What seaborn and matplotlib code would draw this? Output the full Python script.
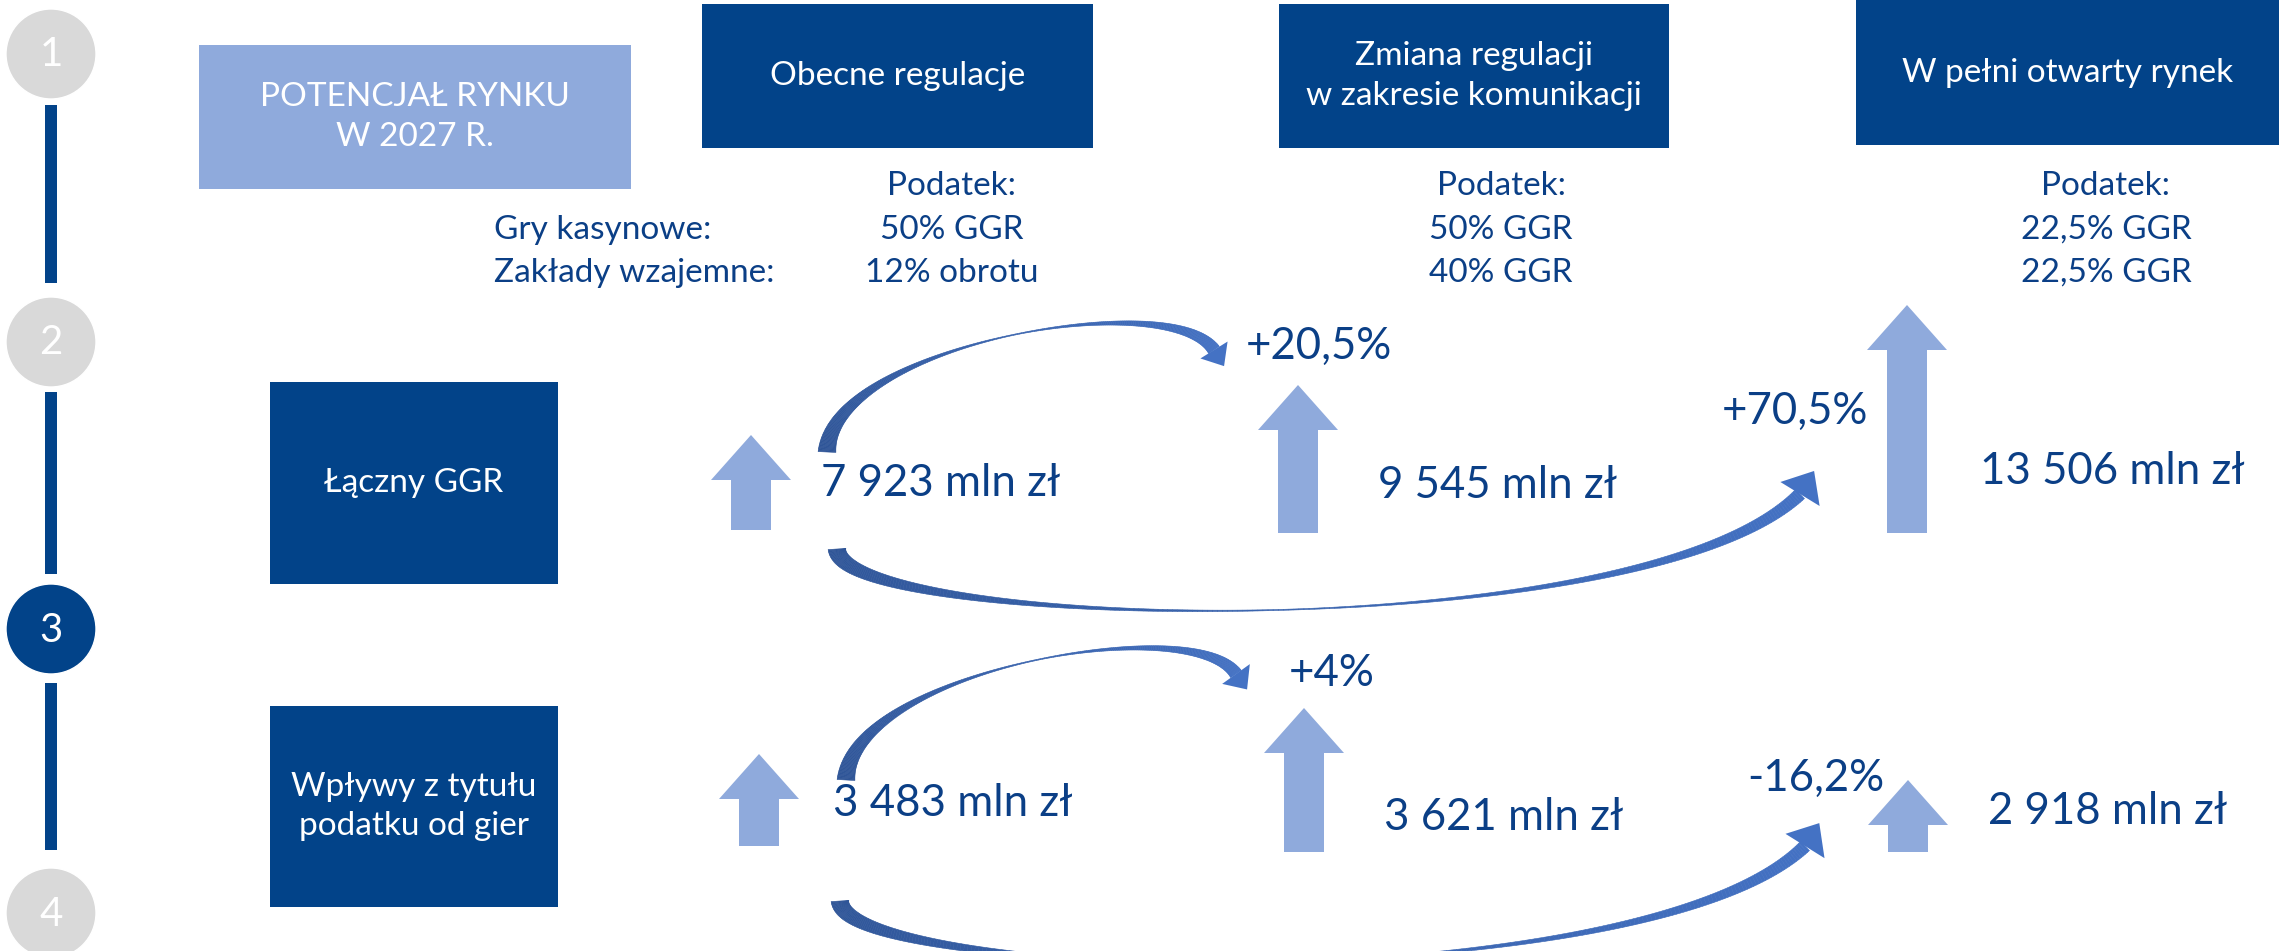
import numpy as np
import pandas as pd
import matplotlib
matplotlib.use("Agg")
import matplotlib.pyplot as plt
import seaborn as sns
from matplotlib.patches import Rectangle, Polygon
from matplotlib.collections import PolyCollection
from matplotlib.colors import to_rgb

# ---- data ----
header_title = "POTENCJAŁ RYNKU\nW 2027 R."
scenarios = ["Obecne regulacje", "Zmiana regulacji\nw zakresie komunikacji", "W pełni otwarty rynek"]
tax_header = "Podatek:"
tax_labels = ["Gry kasynowe:", "Zakłady wzajemne:"]
tax_casino = ["50% GGR", "50% GGR", "22,5% GGR"]
tax_betting = ["12% obrotu", "40% GGR", "22,5% GGR"]
metrics = ["Łączny GGR", "Wpływy z tytułu\npodatku od gier"]
ggr_values = [7923, 9545, 13506]
tax_values = [3483, 3621, 2918]
ggr_changes = ["+20,5%", "+70,5%"]
tax_changes = ["+4%", "-16,2%"]
steps = [1, 2, 3, 4]
active_step = 3

# ---- style ----
W, H = 2279, 951
NAVY = "#024389"
LIGHT = "#8FAADC"
GREY = "#D9D9D9"
TEXT = "#0B3F86"
CURVE_START = "#2F5597"
CURVE_END = "#4472C4"

# ---- layout (pixel space) ----
step_x = 51
step_y = [54, 342, 629, 913]
step_r = 45
step_lines = [(105, 283), (392, 574), (683, 850)]

header_box = (199, 45, 432, 144)
scenario_boxes = [(702, 4, 391, 144), (1279, 4, 390, 144), (1856, 0, 423, 145)]
metric_boxes = [(270, 382, 288, 202), (270, 706, 288, 201)]
tax_col_x = [952, 1501, 2106]
tax_row_y = [186, 230, 273]
tax_label_x = 494

arrow_x = [[751, 1298, 1907], [759, 1304, 1908]]
arrow_tip = [[435, 385, 305], [754, 708, 780]]
arrow_base = [[530, 533, 533], [846, 852, 852]]
value_pos = [[(821, 484), (1378, 485), (1980, 472)], [(833, 804), (1384, 818), (1988, 811)]]
change_pos = [[(1246, 346), (1722, 411)], [(1289, 673), (1747, 778)]]

# bezier control points, head direction, head length, head width
curves = [
    ([(827, 452), (832, 345), (1170, 285), (1214, 350)], (0.53, 0.85), 19, 32),
    ([(837, 549), (842, 630), (1640, 650), (1800, 494)], (0.52, -0.85), 27, 46),
    ([(846, 780), (852, 671), (1192, 610), (1236, 674)], (0.58, 0.81), 19, 34),
    ([(840, 901), (845, 982), (1645, 1002), (1805, 846)], (0.53, -0.85), 27, 46),
]


def fmt_value(v):
    return f"{v:,}".replace(",", " ") + " mln zł"


def up_arrow(ax, x, tip, base, shaft_w=40, head_w=80, head_len=45):
    pts = [(x - shaft_w / 2, base), (x - shaft_w / 2, tip + head_len),
           (x - head_w / 2, tip + head_len), (x, tip),
           (x + head_w / 2, tip + head_len), (x + shaft_w / 2, tip + head_len),
           (x + shaft_w / 2, base)]
    ax.add_patch(Polygon(pts, closed=True, color=LIGHT, lw=0))


def tapered_curve(ax, pts, head_dir, head_len, head_w, w_start=17, w_end=12):
    p = np.array(pts, float)
    t = np.linspace(0, 1, 260)[:, None]
    c = (1 - t) ** 3 * p[0] + 3 * (1 - t) ** 2 * t * p[1] + 3 * (1 - t) * t ** 2 * p[2] + t ** 3 * p[3]
    d = 3 * (1 - t) ** 2 * (p[1] - p[0]) + 6 * (1 - t) * t * (p[2] - p[1]) + 3 * t ** 2 * (p[3] - p[2])
    d = d / np.linalg.norm(d, axis=1, keepdims=True)
    n = np.column_stack([-d[:, 1], d[:, 0]])
    tt = t.ravel()
    w = (w_start * np.clip(1 - tt / 0.55, 0, 1) ** 1.8
         + w_end * np.clip((tt - 0.5) / 0.5, 0, 1) ** 1.5 + 0.8)
    left = c + n * w[:, None] / 2
    right = c - n * w[:, None] / 2
    polys = [np.array([left[i], left[i + 1], right[i + 1], right[i]]) for i in range(len(tt) - 1)]
    c0, c1 = np.array(to_rgb(CURVE_START)), np.array(to_rgb(CURVE_END))
    cols = [tuple(c0 + (c1 - c0) * tt[i]) for i in range(len(tt) - 1)]
    ax.add_collection(PolyCollection(polys, facecolors=cols, edgecolors=cols, linewidths=0.4))
    hd = np.array(head_dir, float)
    hd = hd / np.linalg.norm(hd)
    hn = np.array([-hd[1], hd[0]])
    end = c[-1]
    tip = end + hd * head_len
    ax.add_patch(Polygon([end + hn * head_w / 2, tip, end - hn * head_w / 2],
                         closed=True, color=tuple(c1), lw=0))


sns.set_theme(style="white")
plt.rcParams['font.family'] = ['Lato', 'DejaVu Sans']

fig = plt.figure(figsize=(W / 100, H / 100), dpi=100)
ax = fig.add_axes([0, 0, 1, 1])

# timeline
for y0, y1 in step_lines:
    ax.plot([step_x, step_x], [y0, y1], color=NAVY, lw=12 * 0.72, solid_capstyle="butt", zorder=2)
steps_df = pd.DataFrame({"x": [step_x] * len(steps), "y": step_y,
                         "state": ["active" if s == active_step else "idle" for s in steps]})
sns.scatterplot(data=steps_df, x="x", y="y", hue="state", palette={"active": NAVY, "idle": GREY},
                s=(2 * step_r * 0.72) ** 2, edgecolor="white", linewidth=1, legend=False, ax=ax, zorder=3)
for s, y in zip(steps, step_y):
    ax.text(step_x, y + 1, str(s), ha="center", va="center", color="white", fontsize=29, zorder=4)

# header boxes
x, y, w, h = header_box
ax.add_patch(Rectangle((x, y), w, h, color=LIGHT, lw=0))
ax.text(x + w / 2, y + h / 2, header_title, ha="center", va="center", color="white",
        fontsize=24, linespacing=1.4)
for (x, y, w, h), label in zip(scenario_boxes, scenarios):
    ax.add_patch(Rectangle((x, y), w, h, color=NAVY, lw=0))
    ax.text(x + w / 2, y + h / 2, label, ha="center", va="center", color="white",
            fontsize=24, linespacing=1.4)
for (x, y, w, h), label in zip(metric_boxes, metrics):
    ax.add_patch(Rectangle((x, y), w, h, color=NAVY, lw=0))
    ax.text(x + w / 2, y + h / 2, label, ha="center", va="center", color="white",
            fontsize=24, linespacing=1.4)

# tax rates
for lbl, y in zip(tax_labels, tax_row_y[1:]):
    ax.text(tax_label_x, y, lbl, ha="left", va="center", color=TEXT, fontsize=24)
for cx, casino, betting in zip(tax_col_x, tax_casino, tax_betting):
    for txt, y in zip([tax_header, casino, betting], tax_row_y):
        ax.text(cx, y, txt, ha="center", va="center", color=TEXT, fontsize=24)

# value arrows and labels
for row, vals in enumerate([ggr_values, tax_values]):
    for i, v in enumerate(vals):
        up_arrow(ax, arrow_x[row][i], arrow_tip[row][i], arrow_base[row][i])
        px, py = value_pos[row][i]
        ax.text(px, py, fmt_value(v), ha="left", va="center", color=TEXT, fontsize=31.5)

# change curves and labels
for pts, hdir, hlen, hw in curves:
    tapered_curve(ax, pts, hdir, hlen, hw)
for row, changes in enumerate([ggr_changes, tax_changes]):
    for txt, (px, py) in zip(changes, change_pos[row]):
        ax.text(px, py, txt, ha="left", va="center", color=TEXT, fontsize=31.5)

ax.set_xlim(0, W)
ax.set_ylim(H, 0)
ax.axis("off")
fig.savefig("out.png", dpi=100)
